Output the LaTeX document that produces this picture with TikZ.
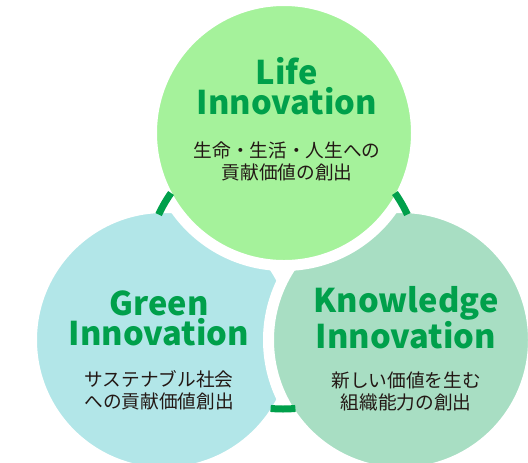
\documentclass[tikz,border=0pt]{standalone}
\usepackage{fontspec}
\setmainfont{Noto Sans}
\newfontfamily\jpfont{Noto Sans CJK JP}
\usepackage{xcolor}

\begin{document}
\begin{tikzpicture}[x=0.75pt,y=-0.75pt,
  petal/.style={circle,draw=white,line width=8.25pt,minimum size=198.75pt,inner sep=0pt},
  ring/.style={leaf,line width=5.25pt},
  heading/.style={align=center,text=leaf,font=\jpfont\bfseries\fontsize{24.5}{22.5}\selectfont},
  caption/.style={align=center,text=ink,font=\jpfont\fontsize{14}{16.5}\selectfont}]
\definecolor{leaf}{HTML}{00A04B}
\definecolor{ink}{HTML}{231815}
\definecolor{lifefill}{HTML}{A5F29B}
\definecolor{greenfill}{HTML}{B2E6E8}
\definecolor{knowfill}{HTML}{A8DEC3}
\useasboundingbox (0,0) rectangle (528,462);
\coordinate (hub) at (283,272);
% left, right, then top on top
  \foreach \name/\crlr/\pos in {green/greenfill/{(164,340)},know/knowfill/{(401,340)},life/lifefill/{(284,133)}}
  {  \node [petal,fill=\crlr] (\name) at \pos {};}
% pieces of the ring showing between the circles
  \foreach \ang in {30,150,270}
  {  \draw [ring] (hub) ++(\ang-5.2:102.75pt) arc[start angle=\ang-5.2,end angle=\ang+5.2,radius=102.75pt];}
\node [heading] (lifetitle) at (287,86) {Life\\Innovation};
\node [caption] (lifetext) at (287,161) {生命・生活・人生への\\貢献価値の創出};
\node [heading] (greentitle) at (159,318.5) {Green\\Innovation};
\node [caption] (greentext) at (159,390) {サステナブル社会\\への貢献価値創出};
\node [heading] (knowtitle) at (406,317.5) {Knowledge\\Innovation};
\node [caption] (knowtext) at (406,391) {新しい価値を生む\\組織能力の創出};
\end{tikzpicture}
\end{document}
